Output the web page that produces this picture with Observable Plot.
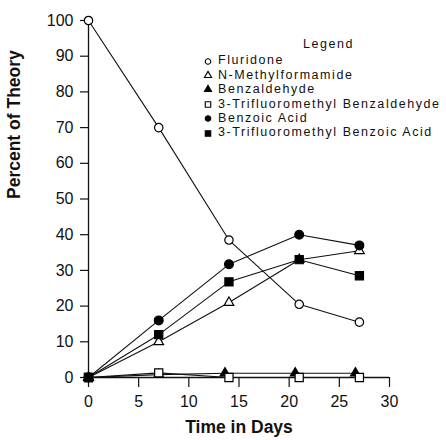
<!DOCTYPE html>
<html><head><meta charset="utf-8">
<script src="https://cdn.jsdelivr.net/npm/d3@7"></script>
<script src="https://cdn.jsdelivr.net/npm/@observablehq/plot@0.6"></script>
<style>
body{margin:0;background:#fff;font-family:"Liberation Sans",Arial,Helvetica,sans-serif}
#wrap{position:relative;width:446px;height:440px;overflow:hidden}
#legend{position:absolute;left:201px;top:37px;font-size:12.5px;letter-spacing:1.55px;color:#111;line-height:14.4px}
#legend .title{text-align:center;margin-left:102px;width:50px;margin-bottom:2px;white-space:nowrap}
#legend .row{display:flex;align-items:center;white-space:nowrap}
#legend svg{margin-right:3px}
</style></head><body><div id="wrap"><div id="legend"></div></div>
<script>
const days = [0, 7, 14, 21, 27];
const benzaldehydeDays = [0, 7, 13.6, 20.6, 26.6];
const fluridone = [100, 70, 38.5, 20.5, 15.5];
const nMethylformamide = [0, 10, 21, 33, 35.5];
const benzaldehyde = [0, 0.8, 1.2, 1.2, 1.2];
const tfBenzaldehyde = [0, 1.3, 0, 0, 0];
const benzoicAcid = [0, 16, 31.7, 40, 37];
const tfBenzoicAcid = [0, 12, 26.8, 33, 28.5];
const seriesNames = ["Fluridone", "N-Methylformamide", "Benzaldehyde", "3-Trifluoromethyl Benzaldehyde", "Benzoic Acid", "3-Trifluoromethyl Benzoic Acid"];
const xTicks = [0, 5, 10, 15, 20, 25, 30];
const yTicks = [0, 10, 20, 30, 40, 50, 60, 70, 80, 90, 100];

const seriesValues = [fluridone, nMethylformamide, benzaldehyde, tfBenzaldehyde, benzoicAcid, tfBenzoicAcid];
const seriesDays = [days, days, benzaldehydeDays, days, days, days];
const styles = [
  {symbol: "circle", fill: "white", r: 4.2},
  {symbol: "triangle", fill: "white", r: 3.6},
  {symbol: "triangle", fill: "black", r: 3.6},
  {symbol: "square", fill: "white", r: 4.6},
  {symbol: "circle", fill: "black", r: 4.4},
  {symbol: "square", fill: "black", r: 4.6}
];
const rows = [];
seriesNames.forEach((name, i) => seriesValues[i].forEach((v, j) => rows.push({series: name, idx: i, day: seriesDays[i][j], value: v})));

const dotMarks = styles.map((s, i) => Plot.dot(rows.filter(d => d.idx === i), {
  x: "day", y: "value", symbol: () => s.symbol, r: s.r, fill: s.fill, stroke: "black", strokeWidth: 1.2
}));

const chart = Plot.plot({
  width: 446, height: 440,
  marginLeft: 88, marginRight: 57, marginTop: 20, marginBottom: 63,
  style: {fontFamily: "'Liberation Sans', Arial, sans-serif", background: "white", color: "#111"},
  x: {domain: [0, 30]},
  y: {domain: [0, 100]},
  symbol: {type: "identity"},
  marks: [
    Plot.ruleX([0], {stroke: "#111", strokeWidth: 1.3}),
    Plot.ruleY([0], {stroke: "#111", strokeWidth: 1.3}),
    Plot.axisX({ticks: xTicks, tickSize: 10, tickPadding: 8, fontSize: 16, label: null, stroke: "#111", strokeWidth: 1.2}),
    Plot.axisY({ticks: yTicks, tickSize: 8, tickPadding: 7, fontSize: 16, label: null, stroke: "#111", strokeWidth: 1.2}),
    Plot.line(rows, {x: "day", y: "value", z: "series", stroke: "#111", strokeWidth: 1.1}),
    ...dotMarks,
    Plot.text(["Percent of Theory"], {frameAnchor: "left", dx: -74, rotate: -90, fontSize: 17.5, fontWeight: "bold", fill: "#111"}),
    Plot.text(["Time in Days"], {frameAnchor: "bottom", dy: 55, fontSize: 17.5, fontWeight: "bold", fill: "#111"})
  ]
});
document.getElementById("wrap").prepend(chart);

// legend
const leg = d3.select("#legend");
leg.append("div").attr("class", "title").text("Legend");
seriesNames.forEach((name, i) => {
  const row = leg.append("div").attr("class", "row");
  const s = styles[i];
  const svg = row.append("svg").attr("width", 14).attr("height", 14);
  const sym = {circle: d3.symbolCircle, triangle: d3.symbolTriangle, square: d3.symbolSquare}[s.symbol];
  const size = s.symbol === "triangle" ? 22 : s.symbol === "square" ? 30 : 24;
  svg.append("path").attr("d", d3.symbol(sym, size)()).attr("transform", "translate(7,7.5)")
    .attr("fill", s.fill).attr("stroke", "black").attr("stroke-width", 1.1);
  row.append("span").text(name);
});
</script>
</body></html>
